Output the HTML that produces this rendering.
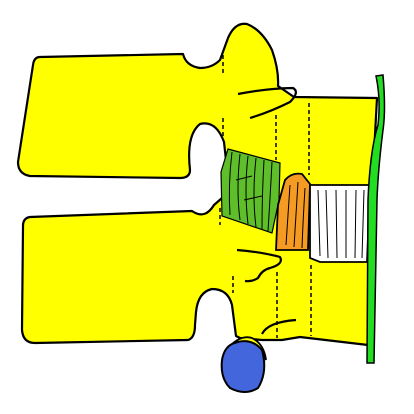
<!DOCTYPE html>
<html><head><meta charset="utf-8"><style>html,body{margin:0;padding:0;background:#fff}svg{display:block}</style></head>
<body>
<svg width="414" height="414" viewBox="0 0 414 414" xmlns="http://www.w3.org/2000/svg">
<rect width="414" height="414" fill="#fff"/>
<path fill="#ffff00" stroke="#000" stroke-width="2.2" stroke-linejoin="round" d="M40,57 L183,54 Q186,66 200,68 Q212,68 220,60 L228,38 Q235,22 247,24 Q262,30 272,50 Q279,70 278,86 L294,97 L377,98 L372,190 L368,345 L300,337 L282,340 L262,340 L240,338 L236,336 L232,305 Q228,289 212,289 Q198,292 196,312 L195,325 Q195,338 188,340 L35,343 Q23,343 22,330 L23,226 Q23,218 30,217 L192,211 Q205,220 214,205 L222,198 L226,160 L224,142 Q216,120 200,124 Q186,135 190,170 Q190,178 180,178 L30,176 Q18,174 18,162 L33,65 Q34,57 40,57 Z"/>
<g fill="none" stroke="#000" stroke-width="2.2" stroke-linejoin="round">
<path d="M238,94 Q270,88 293,88 Q300,92 290,102 Q270,112 250,118"/>
<path d="M237,250 Q262,252 280,257 Q284,264 270,268 Q262,270 258,278 Q252,282 245,281"/>
<path d="M262,334 Q268,322 296,320"/>
</g>
<g stroke="#000" stroke-width="1.5" stroke-dasharray="4,3">
<line x1="223" y1="55" x2="223" y2="75"/>
<line x1="223" y1="118" x2="223" y2="140"/>
<line x1="276" y1="115" x2="276" y2="160"/>
<line x1="309" y1="103" x2="309" y2="175"/>
<line x1="220" y1="208" x2="220" y2="225"/>
<line x1="233" y1="276" x2="233" y2="293"/>
<line x1="277" y1="272" x2="277" y2="338"/>
<line x1="311" y1="265" x2="311" y2="336"/>
</g>
<path fill="#5fbf2a" stroke="#000" stroke-width="1.2" d="M228,149 L280,163 L279,200 L272,233 L222,216 L221,172 Z"/>
<g stroke="#000" stroke-width="1" fill="none">
<path d="M232,152 Q228,185 230,215"/><path d="M240,154 Q236,190 240,220"/><path d="M248,156 Q244,190 248,224"/><path d="M256,158 Q252,195 256,227"/><path d="M264,160 Q262,195 262,229"/><path d="M272,162 Q270,200 268,231"/><path d="M236,180 L252,176"/><path d="M244,200 L262,196"/>
</g>
<path fill="#f59a23" stroke="#000" stroke-width="1.8" d="M285,180 Q292,172 302,174 L310,184 L308,250 L276,250 L278,205 Z"/>
<g stroke="#000" stroke-width="1" fill="none">
<path d="M290,185 Q288,215 286,245"/><path d="M298,182 Q296,215 294,247"/><path d="M305,188 Q303,220 302,248"/>
</g>
<path fill="#fff" stroke="#000" stroke-width="1.8" d="M310,185 L370,185 L367,262 L320,262 L310,258 Z"/>
<g stroke="#000" stroke-width="1" fill="none">
<path d="M318,190 L320,256"/><path d="M326,190 L328,258"/><path d="M336,190 L337,258"/><path d="M346,190 L346,258"/><path d="M356,190 L355,258"/><path d="M364,190 L362,258"/>
</g>
<path fill="#22dd22" stroke="#000" stroke-width="1.5" d="M376,76 L383,75 Q386,110 383,130 Q378,170 377,200 L374,363 L367,363 L368,200 Q370,150 378,125 Q381,100 376,76 Z"/>
<path fill="#ffff00" stroke="#000" stroke-width="1.8" d="M226,350 Q240,334 252,338 Q264,344 266,360 L262,350 Z"/>
<path fill="#4466dd" stroke="#000" stroke-width="2" d="M232,344 Q250,336 262,350 Q268,372 258,388 Q245,396 230,388 Q220,378 222,360 Q224,348 232,344 Z"/>
</svg>
</body></html>
